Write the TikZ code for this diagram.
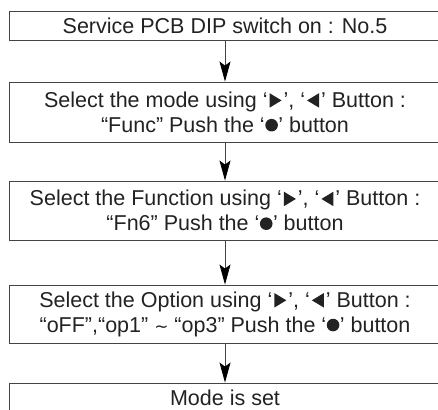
\documentclass[tikz,border=0pt]{standalone}
\usepackage{fontspec}
\setmainfont{Liberation Sans}
\newfontfamily\djv{DejaVu Sans}
\usetikzlibrary{arrows.meta}
\definecolor{txt}{HTML}{222222}
\definecolor{edge}{HTML}{444444}
\newcommand{\rtri}{\hspace{2pt}\tikz[baseline=0pt]\fill[txt] (0,-0.5pt) -- (0,14pt) -- (12pt,6.75pt) -- cycle;\hspace{2pt}}
\newcommand{\ltri}{\hspace{2pt}\tikz[baseline=0pt]\fill[txt] (12pt,-0.5pt) -- (12pt,14pt) -- (0,6.75pt) -- cycle;\hspace{2pt}}
\newcommand{\bdot}{\hspace{0.5pt}\tikz[baseline=0pt]\fill[txt] (6.3pt,7pt) circle (6.3pt);\hspace{0.5pt}}
\begin{document}
\begin{tikzpicture}[x=1pt,y=1pt,
  stepbox/.style={draw=edge, line width=0.9pt, minimum width=432pt, inner sep=0pt,
    align=center, text=txt, font=\fontsize{21.5}{25}\selectfont},
  arr/.style={draw=edge, line width=0.8pt, -{Stealth[length=20pt,width=11pt,inset=4pt,color=black,fill=black]}}]
\useasboundingbox (0,0) rectangle (438,-409);
\node[stepbox, minimum height=29pt] (b1) at (225,-25.5) {Service PCB DIP switch on : No.5};
\node[stepbox, minimum height=60pt] (b2) at (225,-112) {Select the mode using ‘\rtri’, ‘\ltri’ Button :\\“Func” Push the ‘\bdot’ button};
\node[stepbox, minimum height=59pt] (b3) at (225,-210.5) {Select the Function using ‘\rtri’, ‘\ltri’ Button :\\“Fn6” Push the ‘\bdot’ button};
\node[stepbox, minimum height=58pt] (b4) at (225,-314) {Select the Option using ‘\rtri’, ‘\ltri’ Button :\\“oFF”,“op1” {\djv\fontsize{17}{20}\selectfont ∼} “op3” Push the ‘\bdot’ button};
\node[stepbox, minimum height=29pt] (b5) at (225,-397.5) {Mode is set};
\draw[arr] (b1.south) -- (b2.north);
\draw[arr] (b2.south) -- (b3.north);
\draw[arr] (b3.south) -- (b4.north);
\draw[arr] (b4.south) -- (b5.north);
\end{tikzpicture}
\end{document}
